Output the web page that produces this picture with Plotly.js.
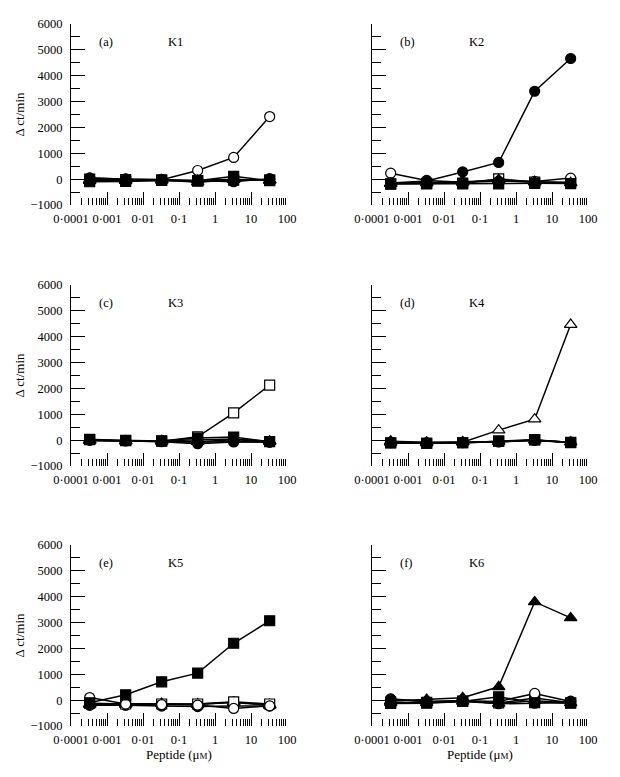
<!DOCTYPE html>
<html>
<head>
<meta charset="utf-8">
<script src="https://cdn.plot.ly/plotly-3.0.1.min.js"></script>
<style>html,body{margin:0;padding:0;background:#fff;}#chart{width:620px;height:777px;}</style>
</head>
<body>
<div id="chart"></div>
<script>
// Peptide concentrations (µM)
const peptideConc = [0.00033, 0.0033, 0.033, 0.33, 3.3, 33];
const panelNames = ['K1', 'K2', 'K3', 'K4', 'K5', 'K6'];
const panelLetters = ['(a)', '(b)', '(c)', '(d)', '(e)', '(f)'];
const xTickVals = [0.0001, 0.001, 0.01, 0.1, 1, 10, 100];
const xTickText = ['0·0001', '0·001', '0·01', '0·1', '1', '10', '100'];
const yTickVals = [-1000, 0, 1000, 2000, 3000, 4000, 5000, 6000];
const yTickText = ['\u22121000', '0', '1000', '2000', '3000', '4000', '5000', '6000'];

// Δ ct/min values; oc = open circle, fc = filled circle, os = open square,
// fs = filled square, ot = open triangle, ft = filled triangle
const k1_oc = [30, 10, -20, 335, 838, 2420];
const k1_fc = [50, 0, -10, -60, -100, 20];
const k1_os = [0, -20, -30, -80, -40, -30];
const k1_fs = [-100, -90, -50, -60, 110, -60];
const k1_ot = [-20, -40, -30, -120, -20, -40];
const k1_ft = [-60, -60, -40, -40, 0, -50];

const k2_oc = [230, -50, -120, -80, -90, 40];
const k2_fc = [-150, -70, 280, 645, 3400, 4665];
const k2_os = [-180, -160, -150, 10, -110, -120];
const k2_fs = [-190, -180, -180, -180, -160, -170];
const k2_ot = [-170, -140, -110, -60, -120, -150];
const k2_ft = [-160, -150, -130, -20, -100, -140];

const k3_oc = [-10, -20, -40, -80, -50, -80];
const k3_fc = [10, -30, -60, -140, -70, -70];
const k3_os = [30, -20, -40, 130, 1057, 2130];
const k3_fs = [20, -10, -30, 80, 120, -60];
const k3_ot = [0, -30, -20, 20, 40, -40];
const k3_ft = [-10, -40, -50, -60, 20, -50];

const k4_oc = [-100, -110, -100, -60, 0, -80];
const k4_fc = [-90, -100, -90, -70, -10, -90];
const k4_os = [-110, -120, -100, -40, 10, -100];
const k4_fs = [-100, -120, -100, -40, 20, -90];
const k4_ot = [-90, -110, -80, 387, 812, 4470];
const k4_ft = [-40, -80, -70, -60, 0, -80];

const k5_oc = [100, -150, -170, -190, -320, -220];
const k5_fc = [-200, -200, -230, -250, -230, -230];
const k5_os = [-120, -150, -150, -150, -65, -150];
const k5_fs = [-100, 206, 710, 1045, 2200, 3070];
const k5_ot = [-150, -140, -140, -170, -80, -170];
const k5_ft = [-160, -160, -140, -150, -90, -200];

const k6_oc = [30, -50, -20, -50, 258, -50];
const k6_fc = [50, -60, -10, -140, -120, -40];
const k6_os = [-80, -90, -40, -110, 80, -100];
const k6_fs = [-130, -120, -50, 130, -100, -120];
const k6_ot = [-100, -100, -50, -130, -20, -110];
const k6_ft = [-30, 25, 90, 515, 3800, 3180];

// drawing order per panel
const panelData = [
  [k1_ot, k1_os, k1_oc, k1_ft, k1_fs, k1_fc],
  [k2_ot, k2_os, k2_oc, k2_ft, k2_fc, k2_fs],
  [k3_ot, k3_oc, k3_os, k3_ft, k3_fc, k3_fs],
  [k4_os, k4_oc, k4_ot, k4_ft, k4_fc, k4_fs],
  [k5_fc, k5_ft, k5_ot, k5_os, k5_oc, k5_fs],
  [k6_ot, k6_os, k6_oc, k6_fc, k6_fs, k6_ft]
];
const panelSymbols = [
  ['triangle-up', 'square', 'circle', 'triangle-up', 'square', 'circle'],
  ['triangle-up', 'square', 'circle', 'triangle-up', 'circle', 'square'],
  ['triangle-up', 'circle', 'square', 'triangle-up', 'circle', 'square'],
  ['square', 'circle', 'triangle-up', 'triangle-up', 'circle', 'square'],
  ['circle', 'triangle-up', 'triangle-up', 'square', 'circle', 'square'],
  ['triangle-up', 'square', 'circle', 'circle', 'square', 'triangle-up']
];
const panelFills = [
  ['white', 'white', 'white', 'black', 'black', 'black'],
  ['white', 'white', 'white', 'black', 'black', 'black'],
  ['white', 'white', 'white', 'black', 'black', 'black'],
  ['white', 'white', 'white', 'black', 'black', 'black'],
  ['black', 'black', 'white', 'white', 'white', 'black'],
  ['white', 'white', 'white', 'black', 'black', 'black']
];

const W = 620, H = 777;
const colX = [[71, 287], [372, 588]];
const rowY = [[24, 205], [285, 466], [545, 726]];
const FONT = '"Liberation Serif", "Times New Roman", serif';

// minor x ticks (2..9 within each decade)
const xMinor = [];
for (let e = -4; e < 2; e++) for (let k = 2; k <= 9; k++) xMinor.push(k * Math.pow(10, e));

const traces = [];
const layout = {
  width: W, height: H,
  margin: {l: 0, r: 0, t: 0, b: 0},
  paper_bgcolor: '#fff', plot_bgcolor: '#fff',
  showlegend: false,
  font: {family: FONT, size: 12, color: '#000'},
  annotations: []
};

panelNames.forEach((name, i) => {
  const col = i % 2, row = Math.floor(i / 2);
  const sfx = i === 0 ? '' : String(i + 1);
  const xa = 'x' + sfx, ya = 'y' + sfx;
  panelData[i].forEach((vals, s) => {
    traces.push({
      type: 'scatter', mode: 'lines+markers',
      x: peptideConc, y: vals, xaxis: xa, yaxis: ya,
      line: {color: '#000', width: 1.5},
      marker: {symbol: panelSymbols[i][s], size: panelSymbols[i][s] === 'triangle-up' ? 11 : 10,
               color: panelFills[i][s], line: {color: '#000', width: 1.2}},
      cliponaxis: false, hoverinfo: 'skip'
    });
  });
  const xd = [colX[col][0] / W, colX[col][1] / W];
  const yd = [1 - rowY[row][1] / H, 1 - rowY[row][0] / H];
  layout['xaxis' + sfx] = {
    domain: xd, anchor: ya, type: 'log', range: [-4, 2],
    showline: false, showgrid: false, zeroline: false,
    tickmode: 'array', tickvals: xTickVals, ticktext: xTickText,
    ticks: 'inside', ticklen: 13, tickwidth: 1, tickcolor: '#000',
    minor: {ticks: 'inside', ticklen: 7, tickwidth: 1, tickcolor: '#000', tickmode: 'array', tickvals: xMinor},
    tickfont: {family: FONT, size: 12.5, color: '#000'},
    ticklabelstandoff: 4,
    fixedrange: true,
    title: row === 2 ? {text: 'Peptide (\u03bc<span style="font-size:9px">M</span>)', font: {family: FONT, size: 13, color: '#000'}, standoff: 4} : {text: ''}
  };
  layout['yaxis' + sfx] = {
    domain: yd, anchor: xa, range: [-1000, 6000],
    showline: true, linecolor: '#000', linewidth: 1,
    showgrid: false, zeroline: false,
    tickmode: 'array', tickvals: yTickVals, ticktext: yTickText,
    showticklabels: col === 0,
    ticks: 'inside', ticklen: 14, tickwidth: 1, tickcolor: '#000',
    minor: {ticks: 'inside', ticklen: 9, tickwidth: 1, tickcolor: '#000', dtick: 500, tick0: 0},
    tickfont: {family: FONT, size: 12.5, color: '#000'},
    ticklabelstandoff: 5,
    fixedrange: true,
    title: col === 0 ? {text: '\u0394 ct/min', font: {family: FONT, size: 13, color: '#000'}, standoff: 2} : {text: ''}
  };
  layout.annotations.push({
    xref: xa + ' domain', yref: ya + ' domain', x: 0.12, y: 0.95,
    text: panelLetters[i], showarrow: false, font: {family: FONT, size: 12.5, color: '#000'}
  });
  layout.annotations.push({
    xref: xa + ' domain', yref: ya + ' domain', x: 0.486, y: 0.95,
    text: name, showarrow: false, font: {family: FONT, size: 12.5, color: '#000'}
  });
});

Plotly.newPlot('chart', traces, layout, {staticPlot: true, displayModeBar: false});
</script>
</body>
</html>
